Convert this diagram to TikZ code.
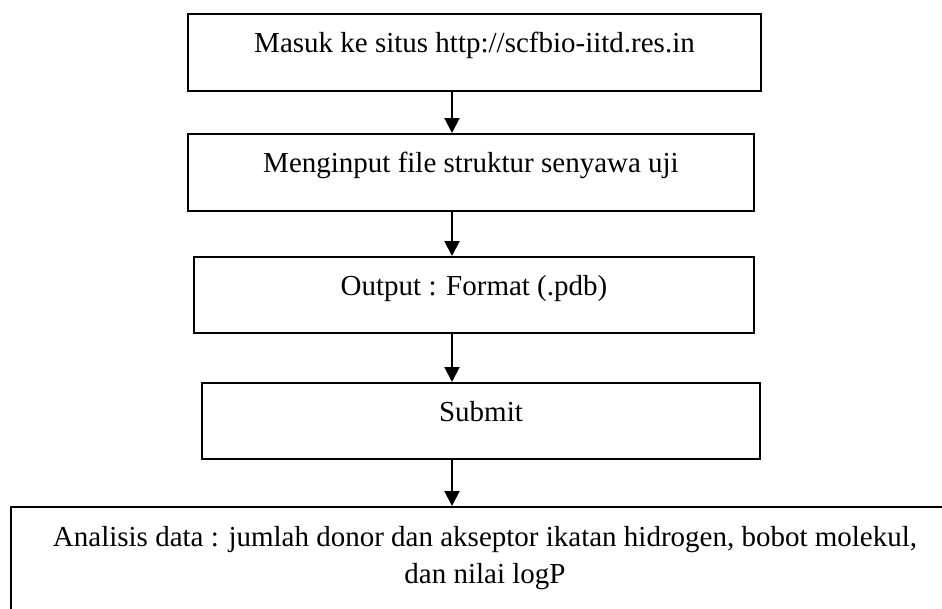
\documentclass[tikz,border=0pt]{standalone}
\usepackage{fontspec}
\setmainfont{Liberation Serif}
\usetikzlibrary{arrows.meta}
\begin{document}
\begin{tikzpicture}[box/.style={draw,line width=.04cm,anchor=north west,inner sep=0pt,text height=.76cm,font=\fontsize{16.5pt}{21pt}\selectfont},flow/.style={line width=.04cm,-{Triangle[length=.3cm,width=.3cm]}}]
\useasboundingbox(0,0)rectangle(18.84,-12.18);\clip(0,0)rectangle(18.84,-12.18);
\node[box,minimum width=11.46cm,text depth=.78cm](s1)at(3.74,-.26){Masuk ke situs http://scfbio-iitd.res.in};
\node[box,minimum width=11.32cm,text depth=.78cm](s2)at(3.74,-2.66){Menginput file struktur senyawa uji};
\node[box,minimum width=11.2cm,text depth=.76cm](s3)at(3.86,-5.12){Output : Format (.pdb)};
\node[box,minimum width=11.16cm,text depth=.76cm](s4)at(4.02,-7.64){Submit};
\node[box,minimum width=18.96cm,text height=1.52cm,text depth=1.6cm,align=center](s5)at(.2,-10.12){Analisis data : jumlah donor dan akseptor ikatan hidrogen, bobot molekul,\\dan nilai logP};
\coordinate(ax)at(9.04,0);
\draw[flow](s1.south-|ax)--(s2.north-|ax);\draw[flow](s2.south-|ax)--(s3.north-|ax);
\draw[flow](s3.south-|ax)--(s4.north-|ax);\draw[flow](s4.south-|ax)--(s5.north-|ax);
\end{tikzpicture}
\end{document}
